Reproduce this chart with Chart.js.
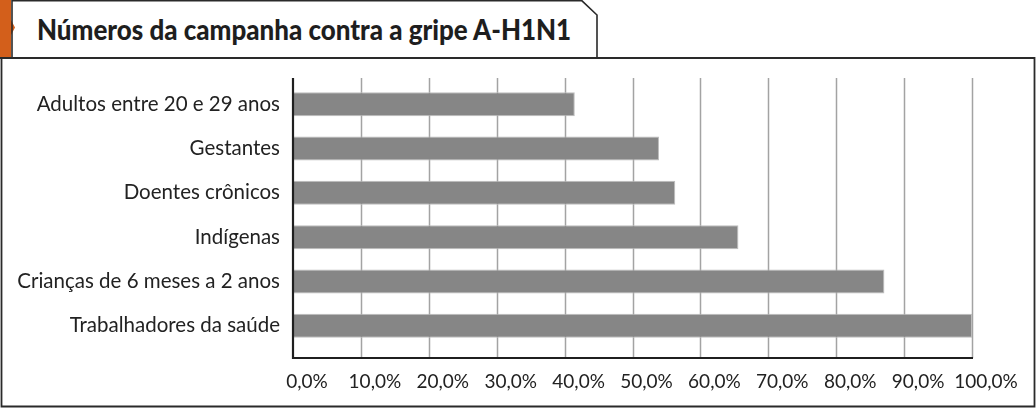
<!DOCTYPE html>
<html>
<head>
<meta charset="utf-8">
<script src="https://cdn.jsdelivr.net/npm/chart.js@4"></script>
<style>
  html, body { margin: 0; padding: 0; background: #fff; }
  #wrap { position: relative; width: 1036px; height: 409px; overflow: hidden; }
  #frame { position: absolute; left: 0; top: 0; }
  #title {
    position: absolute; left: 37px; top: 11px;
    font-family: Lato, "Open Sans", sans-serif;
    font-weight: 900; font-size: 28px; line-height: 36px; color: #1e1e1e;
    white-space: nowrap; transform-origin: 0 50%;
  }
  #chart { position: absolute; left: 0; top: 0; }
</style>
</head>
<body>
<div id="wrap">
  <svg id="frame" width="1036" height="409">
    <rect x="0" y="0" width="11" height="58" fill="#d35f1b"/>
    <polygon points="11,20 15,27.5 11,35" fill="#d35f1b"/>
    <polyline points="12,58 12,0.8 582,0.8 597,15 597,58" fill="none" stroke="#2a2a2a" stroke-width="1.6"/>
    <polyline points="0,58 1034.5,58 1034.5,406.5 1.5,406.5 1.5,58" fill="none" stroke="#2a2a2a" stroke-width="1.8"/>
  </svg>
  <div id="title">Números da campanha contra a gripe A-H1N1</div>
  <div id="chart"><canvas id="c" width="1036" height="409"></canvas></div>
</div>
<script>
const categories = [
  'Adultos entre 20 e 29 anos',
  'Gestantes',
  'Doentes crônicos',
  'Indígenas',
  'Crianças de 6 meses a 2 anos',
  'Trabalhadores da saúde'
];
const coverage = [41.5, 53.9, 56.3, 65.6, 87.1, 100.0];
const xMin = 0;
const xMax = 100;
const xStep = 10;

// the printed title is a condensed face; squeeze Lato to the same width
const title = document.getElementById('title');
title.style.transform = 'scaleX(' + (534 / title.offsetWidth).toFixed(3) + ')';

// grid and axis lines reach a bit past the bar area, like the printed chart
const gridTop = 78;
const gridBottom = 358;

const gridPlugin = {
  id: 'longGrid',
  beforeDatasetsDraw(chart) {
    const ctx = chart.ctx;
    const x = chart.scales.x;
    ctx.save();
    ctx.strokeStyle = '#a3a3a3';
    ctx.lineWidth = 1.5;
    x.ticks.forEach(t => {
      if (t.value === xMin) return;
      const px = Math.round(x.getPixelForValue(t.value)) + 0.5;
      ctx.beginPath();
      ctx.moveTo(px, gridTop);
      ctx.lineTo(px, gridBottom);
      ctx.stroke();
    });
    ctx.restore();
  },
  afterDatasetsDraw(chart) {
    const ctx = chart.ctx;
    const x = chart.scales.x;
    const left = x.getPixelForValue(xMin);
    const right = x.getPixelForValue(xMax);
    ctx.save();
    ctx.strokeStyle = '#1f1f1f';
    ctx.lineWidth = 2.2;
    ctx.beginPath();
    ctx.moveTo(left, gridTop);
    ctx.lineTo(left, gridBottom);
    ctx.lineTo(right + 1, gridBottom);
    ctx.stroke();
    ctx.restore();
  }
};

new Chart(document.getElementById('c'), {
  type: 'bar',
  data: {
    labels: categories,
    datasets: [{
      data: coverage,
      backgroundColor: '#868686',
      borderColor: '#bdbdbd',
      borderWidth: 1,
      borderSkipped: false,
      barPercentage: 0.54,
      categoryPercentage: 1
    }]
  },
  options: {
    indexAxis: 'y',
    responsive: false,
    animation: false,
    events: [],
    layout: { padding: { left: 0, right: 64, top: 82, bottom: 0 } },
    plugins: {
      legend: { display: false },
      tooltip: { enabled: false }
    },
    scales: {
      x: {
        min: xMin,
        max: xMax,
        grid: { display: false, drawTicks: false },
        border: { display: false },
        afterFit(scale) { scale.height = 61; },
        ticks: {
          stepSize: xStep,
          padding: 22,
          labelOffset: 14,
          maxRotation: 0,
          minRotation: 0,
          autoSkip: false,
          color: '#222',
          font: { family: 'Lato', size: 19 },
          callback: v => v.toFixed(1).replace('.', ',') + '%'
        }
      },
      y: {
        grid: { display: false, drawTicks: false },
        border: { display: false },
        afterFit(scale) { scale.width = 293; },
        ticks: {
          padding: 13,
          color: '#222',
          font: { family: 'Lato', size: 20.5 }
        }
      }
    }
  },
  plugins: [gridPlugin]
});
</script>
</body>
</html>
